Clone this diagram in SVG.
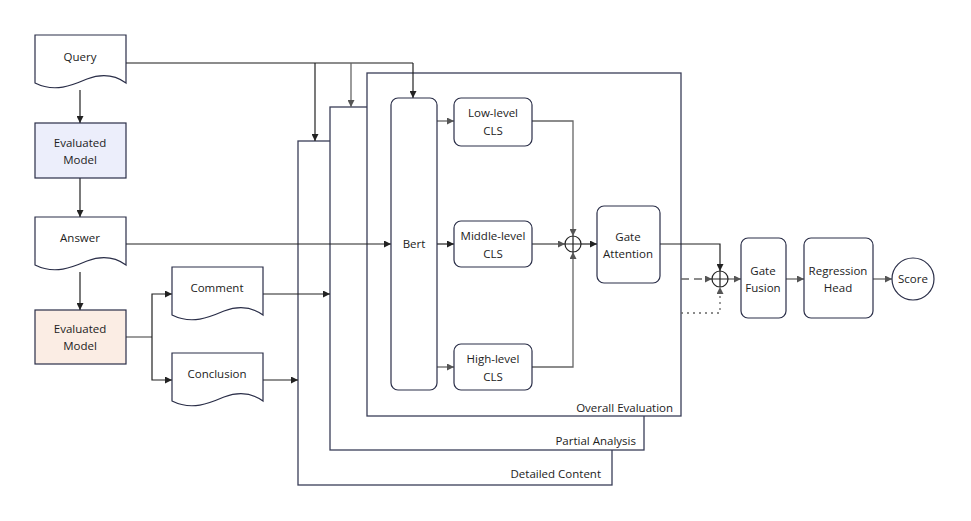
<svg xmlns="http://www.w3.org/2000/svg" width="971" height="521" viewBox="0 0 971 521">
<defs>
<marker id="ah" viewBox="0 0 10 10" refX="10" refY="5" markerWidth="7" markerHeight="7" markerUnits="userSpaceOnUse" orient="auto"><path d="M0,0 L10,5 L0,10 Z" fill="#222"/></marker>
<marker id="ahg" viewBox="0 0 10 10" refX="10" refY="5" markerWidth="7" markerHeight="7" markerUnits="userSpaceOnUse" orient="auto"><path d="M0,0 L10,5 L0,10 Z" fill="#555"/></marker>
<path id="doc" d="M0,0 H91 V48 C80,40 68,38 52,44 C38,50 20,58 0,48 Z"/>
</defs>
<style>
text{font-family:"Open Sans","Noto Sans","Liberation Sans",sans-serif;font-size:11.5px;fill:#222;text-anchor:middle}
.lbl{text-anchor:end}
.shape{fill:#fff;stroke:#2a2e48;stroke-width:1.2}
.frame{fill:#fff;stroke:#3a3e58;stroke-width:1.3}
.ln{fill:none;stroke:#222;stroke-width:1.2}
.lg{fill:none;stroke:#666;stroke-width:1.3}
</style>
<rect width="971" height="521" fill="#fff"/>

<!-- frames -->
<g id="detailed-content"><rect class="frame" x="298" y="141" width="314" height="344"/><text class="lbl" x="601" y="478">Detailed Content</text></g>
<g id="partial-analysis"><rect class="frame" x="330" y="107" width="314" height="343"/><text class="lbl" x="636" y="445">Partial Analysis</text></g>
<g id="overall-evaluation"><rect class="frame" x="367" y="73" width="314" height="343"/><text class="lbl" x="673" y="412">Overall Evaluation</text></g>

<!-- connectors -->
<g id="connectors">
<path class="lg" d="M126,63 H413"/>
<path class="ln" d="M315,63 V141" marker-end="url(#ah)"/>
<path class="lg" d="M351,63 V107" marker-end="url(#ahg)"/>
<path class="ln" d="M413,63 V98" marker-end="url(#ah)"/>
<path class="ln" d="M80,90 V123" marker-end="url(#ah)"/>
<path class="ln" d="M80,178 V217" marker-end="url(#ah)"/>
<path class="ln" d="M80,272 V310" marker-end="url(#ah)"/>
<path class="ln" d="M126,244 H391" marker-end="url(#ah)"/>
<path class="lg" d="M126,337 H152"/>
<path class="ln" d="M152,337 V294 H172" marker-end="url(#ah)"/>
<path class="ln" d="M152,337 V380 H172" marker-end="url(#ah)"/>
<path class="ln" d="M263,294 H330" marker-end="url(#ah)"/>
<path class="ln" d="M263,380 H298" marker-end="url(#ah)"/>
<path class="lg" d="M437,121 H454" marker-end="url(#ahg)"/>
<path class="ln" d="M437,244 H454" marker-end="url(#ah)"/>
<path class="lg" d="M437,367 H454" marker-end="url(#ahg)"/>
<path class="lg" d="M532,121 H573 V236" marker-end="url(#ahg)"/>
<path class="lg" d="M532,244 H565" marker-end="url(#ahg)"/>
<path class="lg" d="M532,367 H573 V252" marker-end="url(#ahg)"/>
<path class="ln" d="M581,244 H597" marker-end="url(#ah)"/>
<path class="ln" d="M660,244 H720 V271" marker-end="url(#ah)"/>
<path class="lg" d="M681,279 H712" stroke-dasharray="8,5" marker-end="url(#ahg)"/>
<path class="lg" d="M681,313 H720 V287" stroke-dasharray="2,4" marker-end="url(#ahg)"/>
<path class="lg" d="M728,279 H741" marker-end="url(#ahg)"/>
<path class="lg" d="M786,279 H804" marker-end="url(#ahg)"/>
<path class="lg" d="M873,279 H892" marker-end="url(#ahg)"/>
</g>

<!-- nodes -->
<g id="query"><use href="#doc" x="35" y="35" class="shape"/><text x="80" y="61">Query</text></g>
<g id="evaluated-model-1"><rect x="35" y="123" width="91" height="55" fill="#ECEEFB" stroke="#2a2e48" stroke-width="1.2"/><text x="80" y="147">Evaluated</text><text x="80" y="164">Model</text></g>
<g id="answer"><use href="#doc" x="35" y="217" class="shape"/><text x="80" y="242">Answer</text></g>
<g id="evaluated-model-2"><rect x="35" y="310" width="91" height="54" fill="#FBEDE4" stroke="#2a2e48" stroke-width="1.2"/><text x="80" y="333">Evaluated</text><text x="80" y="350">Model</text></g>
<g id="comment"><use href="#doc" x="172" y="267" class="shape"/><text x="217" y="292">Comment</text></g>
<g id="conclusion"><use href="#doc" x="172" y="353" class="shape"/><text x="217" y="378">Conclusion</text></g>
<g id="bert"><rect class="shape" x="391" y="98" width="46" height="292" rx="7"/><text x="414" y="248">Bert</text></g>
<g id="low-cls"><rect class="shape" x="454" y="98" width="78" height="48" rx="7"/><text x="493" y="117">Low-level</text><text x="493" y="135">CLS</text></g>
<g id="mid-cls"><rect class="shape" x="454" y="221" width="78" height="46" rx="7"/><text x="493" y="240">Middle-level</text><text x="493" y="258">CLS</text></g>
<g id="high-cls"><rect class="shape" x="454" y="344" width="78" height="46" rx="7"/><text x="493" y="363">High-level</text><text x="493" y="381">CLS</text></g>
<g id="oplus-1"><circle cx="573" cy="244" r="8" fill="#fff" stroke="#222" stroke-width="1.2"/><path d="M565,244 H581 M573,236 V252" stroke="#222" stroke-width="1.2"/></g>
<g id="gate-attention"><rect class="shape" x="597" y="206" width="63" height="77" rx="7"/><text x="628" y="241">Gate</text><text x="628" y="258">Attention</text></g>
<g id="oplus-2"><circle cx="720" cy="279" r="8" fill="#fff" stroke="#222" stroke-width="1.2"/><path d="M712,279 H728 M720,271 V287" stroke="#222" stroke-width="1.2"/></g>
<g id="gate-fusion"><rect class="shape" x="741" y="238" width="45" height="80" rx="7"/><text x="763" y="275">Gate</text><text x="763" y="292">Fusion</text></g>
<g id="regression-head"><rect class="shape" x="804" y="238" width="69" height="80" rx="7"/><text x="838" y="275">Regression</text><text x="838" y="292">Head</text></g>
<g id="score"><circle cx="913" cy="279" r="21" fill="#fff" stroke="#2a2e48" stroke-width="1.2"/><text x="913" y="283">Score</text></g>
</svg>
